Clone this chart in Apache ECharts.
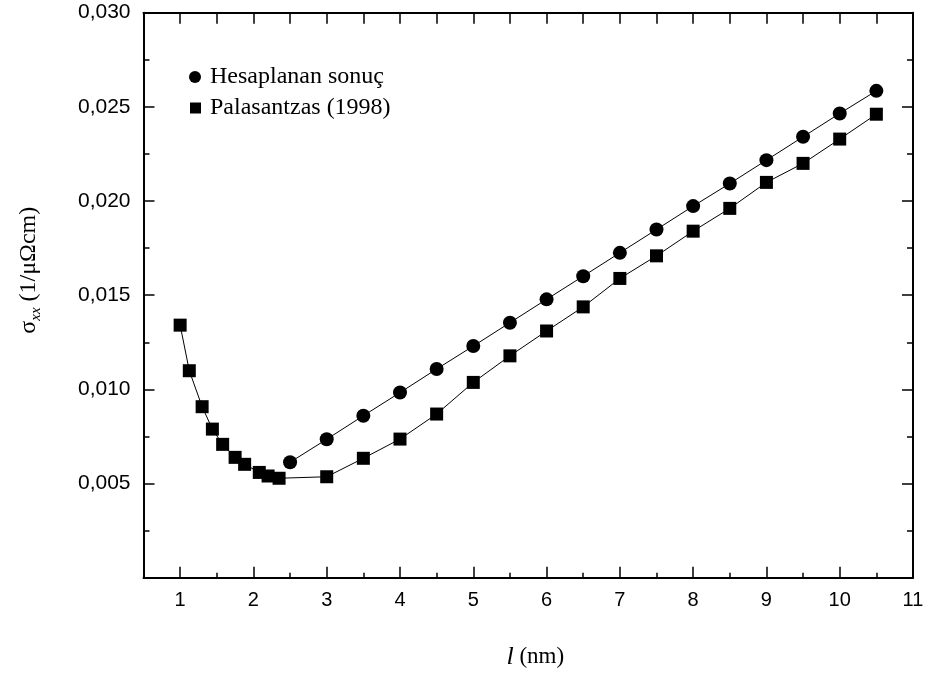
<!DOCTYPE html>
<html>
<head>
<meta charset="utf-8">
<script src="https://cdn.jsdelivr.net/npm/echarts@6/dist/echarts.min.js"></script>
<style>
html,body{margin:0;padding:0;background:#fff;}
#chart{width:928px;height:684px;}
</style>
</head>
<body>
<div id="chart"></div>
<script>
// Series: Hesaplanan sonuç (circles)
const hesapX = [2.5, 3, 3.5, 4, 4.5, 5, 5.5, 6, 6.5, 7, 7.5, 8, 8.5, 9, 9.5, 10, 10.5];
const hesapY = [0.00613, 0.00735, 0.0086, 0.00983, 0.01108, 0.0123, 0.01354, 0.01478, 0.01601,
                0.01725, 0.01849, 0.01973, 0.02093, 0.02217, 0.02341, 0.02465, 0.02585];
// Series: Palasantzas (1998) (squares)
const palasX = [1, 1.125, 1.3, 1.44, 1.58, 1.75, 1.88, 2.08, 2.2, 2.35, 3, 3.5, 4, 4.5, 5, 5.5,
                6, 6.5, 7, 7.5, 8, 8.5, 9, 9.5, 10, 10.5];
const palasY = [0.01341, 0.01099, 0.00908, 0.00789, 0.00708, 0.00639, 0.00602, 0.00559, 0.0054, 0.00528,
                0.00536, 0.00634, 0.00736, 0.00869, 0.01037, 0.01178, 0.0131, 0.01438, 0.01589, 0.01709,
                0.0184, 0.01961, 0.02099, 0.022, 0.02329, 0.02461];
// Tick positions / labels
const xMajorTicks = [1, 2, 3, 4, 5, 6, 7, 8, 9, 10, 11];
const xMinorTicks = [1.5, 2.5, 3.5, 4.5, 5.5, 6.5, 7.5, 8.5, 9.5, 10.5];
const xTopTicks = [1, 1.5, 2, 2.5, 3, 3.5, 4, 4.5, 5, 5.5, 6, 6.5, 7, 7.5, 8, 8.5, 9, 9.5, 10, 10.5];
const seriesNames = ['Hesaplanan sonuç', 'Palasantzas (1998)'];

const hesapData = hesapX.map((x, i) => [x, hesapY[i]]);
const palasData = palasX.map((x, i) => [x, palasY[i]]);

const chart = echarts.init(document.getElementById('chart'), null, {renderer: 'canvas'});
const axisLine = {show: true, lineStyle: {color: '#000', width: 2}};

const option = {
  backgroundColor: '#fff',
  animation: false,
  grid: {left: 143.5, right: 15, top: 12.7, bottom: 106.3, containLabel: false},
  legend: [
    {
      data: [{name: seriesNames[0], icon: 'circle'}],
      orient: 'vertical', left: 189, top: 65, padding: 0,
      itemWidth: 12, itemHeight: 12,
      textStyle: {color: '#000', fontFamily: 'Liberation Serif', fontSize: 24, padding: [0, 0, 0, 4]}
    },
    {
      data: [{name: seriesNames[1], icon: 'rect'}],
      orient: 'vertical', left: 190, top: 96, padding: 0,
      itemWidth: 11, itemHeight: 11,
      textStyle: {color: '#000', fontFamily: 'Liberation Serif', fontSize: 24, padding: [0, 0, 0, 4]}
    }
  ],
  xAxis: [
    {
      type: 'value', position: 'bottom', min: 0.5, max: 11, interval: 0.5,
      axisLine: axisLine,
      axisTick: {show: true, inside: true, length: 11, customValues: xMajorTicks, lineStyle: {color: '#000', width: 1.5}},
      axisLabel: {customValues: xMajorTicks, margin: 13, formatter: v => String(v),
        color: '#000', fontFamily: 'Liberation Sans', fontSize: 20},
      splitLine: {show: false},
      name: '{i|l}{n| (nm)}',
      nameLocation: 'middle', nameGap: 66,
      nameTextStyle: {color: '#000', padding: [0, 0, 0, 14],
        rich: {
          i: {fontStyle: 'italic', fontFamily: 'Liberation Serif', fontSize: 26, color: '#000'},
          n: {fontFamily: 'Liberation Serif', fontSize: 23, color: '#000'}
        }}
    },
    {
      type: 'value', position: 'bottom', min: 0.5, max: 11, interval: 0.5,
      axisLine: {show: false},
      axisTick: {show: true, inside: true, length: 5, customValues: xMinorTicks, lineStyle: {color: '#000', width: 1.5}},
      axisLabel: {show: false},
      splitLine: {show: false}
    },
    {
      type: 'value', position: 'top', min: 0.5, max: 11, interval: 0.5,
      axisLine: axisLine,
      axisTick: {show: true, inside: true, length: 11, customValues: xTopTicks, lineStyle: {color: '#000', width: 1.5}},
      axisLabel: {show: false},
      splitLine: {show: false}
    }
  ],
  yAxis: [
    {
      type: 'value', position: 'left', min: 0, max: 0.03, interval: 0.005,
      axisLine: axisLine,
      axisTick: {show: true, inside: true, length: 11, lineStyle: {color: '#000', width: 1.5}},
      minorTick: {show: true, splitNumber: 2, length: 6, lineStyle: {color: '#000', width: 1.5}},
      axisLabel: {margin: 13, formatter: v => v === 0 ? '' : v.toFixed(3).replace('.', ','),
        color: '#000', fontFamily: 'Liberation Sans', fontSize: 21},
      splitLine: {show: false},
      minorSplitLine: {show: false},
      name: '{s|σ}{sub|xx}{n| (1/μΩcm)}',
      nameLocation: 'middle', nameGap: 100,
      nameTextStyle: {
        color: '#000', padding: [0, 0, 0, 50],
        rich: {
          s: {fontFamily: 'Liberation Serif', fontSize: 24, color: '#000', lineHeight: 30, verticalAlign: 'middle'},
          sub: {fontFamily: 'Liberation Serif', fontStyle: 'italic', fontSize: 15, color: '#000', lineHeight: 16, verticalAlign: 'bottom'},
          n: {fontFamily: 'Liberation Serif', fontSize: 24, color: '#000', lineHeight: 30, verticalAlign: 'middle'}
        }
      }
    },
    {
      type: 'value', position: 'right', min: 0, max: 0.03, interval: 0.005,
      axisLine: axisLine,
      axisTick: {show: true, inside: true, length: 11, lineStyle: {color: '#000', width: 1.5}},
      minorTick: {show: true, splitNumber: 2, length: 6, lineStyle: {color: '#000', width: 1.5}},
      axisLabel: {show: false},
      splitLine: {show: false},
      minorSplitLine: {show: false}
    }
  ],
  series: [
    {
      name: seriesNames[0], type: 'line', xAxisIndex: 0, yAxisIndex: 0,
      data: hesapData, symbol: 'circle', symbolSize: 14,
      lineStyle: {color: '#000', width: 1}, itemStyle: {color: '#000'}
    },
    {
      name: seriesNames[1], type: 'line', xAxisIndex: 0, yAxisIndex: 0,
      data: palasData, symbol: 'rect', symbolSize: 13,
      lineStyle: {color: '#000', width: 1}, itemStyle: {color: '#000'}
    }
  ]
};
chart.setOption(option);
</script>
</body>
</html>
